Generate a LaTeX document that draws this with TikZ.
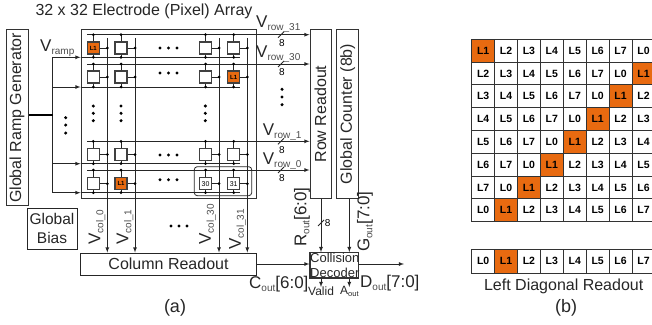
\documentclass[tikz,border=0pt]{standalone}
\usepackage{fontspec}
\setmainfont{Liberation Sans}
\usetikzlibrary{calc}
\definecolor{pixelorange}{RGB}{232,106,16}
\tikzset{
  >=latex,
  box/.style={draw=black!80,line width=1pt,inner sep=0pt},
  wire/.style={line width=0.8pt,color=black!85},
  lonecell/.style={draw=black!75,line width=1.2pt,fill=white,minimum size=12pt,inner sep=0pt,font=\fontsize{7}{7}\selectfont},
  hitcell/.style={lonecell,fill=pixelorange,font=\fontsize{6}{6}\selectfont\bfseries},
  junction/.style={circle,fill=black,inner sep=0pt,minimum size=3pt},
  gapdot/.style={circle,fill=black,inner sep=0pt,minimum size=3.4pt},
  gridcell/.style={draw=black!80,line width=1pt,minimum width=22.9pt,minimum height=22.8pt,inner sep=0pt,font=\fontsize{10.5}{10.5}\selectfont\bfseries},
  blocktext/.style={font=\fontsize{16}{16}\selectfont,color=black!85},
  siglabel/.style={font=\fontsize{17}{17}\selectfont,color=black!85,inner sep=0pt}
}
\newcommand{\vsig}[2]{#1\raisebox{-3pt}{\fontsize{10}{10}\selectfont\color{black!70}#2}}
\def\pixel[#1](#2)(#3,#4)(#5:#6:#7)#8{
  \node[#1] (#2) at (#3,#4) {#8};
  \draw[wire] (#2.north) -- (#3,#5) node[junction] (#2t) {};
  \draw[wire] (#2.south) -- (#3,#6) node[junction] (#2b) {};
  \draw[wire] (#2.east) -- (#7,#4) node[junction] (#2r) {};
}
\begin{document}
\begin{tikzpicture}[x=1pt,y=-1pt]
  \useasboundingbox (0,0) rectangle (652,324);
  %%%%% blocks %%%%%
  \node[box,minimum width=22pt,minimum height=176pt] (rampgen) at (17,117.5) {};
  \node[blocktext,rotate=90] (rampgentext) at (17,118) {Global Ramp Generator};
  \node[box,minimum width=50pt,minimum height=41pt,blocktext,align=center,font=\fontsize{15.5}{18.5}\selectfont] (bias) at (52,228.5) {Global\\Bias};
  \node[box,minimum width=175pt,minimum height=169pt] (array) at (168.5,114) {};
  \node[box,minimum width=176pt,minimum height=22pt,blocktext] (colread) at (168.5,264) {Column Readout};
  \node[box,minimum width=21pt,minimum height=169pt] (rowread) at (320.5,114) {};
  \node[blocktext,rotate=90] (rowreadtext) at (320.5,114) {Row Readout};
  \node[box,minimum width=22pt,minimum height=169pt] (counter) at (347.7,114) {};
  \node[blocktext,rotate=90] (countertext) at (347.7,114) {Global Counter (8b)};
  \node[box,line width=1.2pt,minimum width=48.7pt,minimum height=25.3pt] (decoder) at (334.4,265.4) {};
  \node[font=\fontsize{13}{15}\selectfont,align=center,color=black!85] (decodertext) at (334.8,265.8) {Collision\\Decoder};
  \node[blocktext] (title) at (144,11) {32 x 32 Electrode (Pixel) Array};
  \node[font=\fontsize{18}{18}\selectfont,color=black!85] (parta) at (175,307.5) {(a)};
  %%%%% row and ramp lines %%%%%
  \coordinate (busa) at (52.7,57.3);
  \coordinate (busb) at (52.7,87);
  \coordinate (busc) at (52.7,163.7);
  \coordinate (busd) at (52.7,192.7);
  \draw[wire] (busa) -- (busd);
  \draw[line width=1.4pt] (rampgen.east |- 0,115) -- (52.7,115);
  \foreach \rampy in {a,b,c,d}{
    \draw[wire,->] (bus\rampy) -- (bus\rampy -| array.west);
    \draw[wire] (bus\rampy -| array.west) -- ($(bus\rampy)+(187.3,0)$);
  }
  \foreach \rowy in {34.7,64,141.3,170}{
    \coordinate (rowstart) at (87,\rowy);
    \draw[wire,->] (rowstart) -- (rowstart -| rowread.west);
    \draw[wire] ($(281,\rowy)+(-3,3)$) -- ($(281,\rowy)+(3,-3)$);
    \node[font=\fontsize{10}{10}\selectfont,inner sep=0pt] at (282,\rowy+8.5) {8};
  }
  %%%%% column lines %%%%%
  \foreach \colx in {107.3,135,219,247.3}{
    \coordinate (coltop) at (\colx,38);
    \draw[wire,->] (coltop) -- (coltop |- colread.north);
  }
  %%%%% pixels %%%%%
  \pixel[hitcell](ca)(93.3,48)(34.7:57.3:107.3){L1}
  \pixel[lonecell](cb)(121,48)(34.7:57.3:135){}
  \pixel[lonecell](cc)(205.5,48)(34.7:57.3:219){}
  \pixel[lonecell](cd)(233.7,48)(34.7:57.3:247.3){}
  \pixel[lonecell](da)(93.3,77)(64:87:107.3){}
  \pixel[lonecell](db)(121,77)(64:87:135){}
  \pixel[lonecell](dc)(205.5,77)(64:87:219){}
  \pixel[hitcell](dd)(233.7,77)(64:87:247.3){L1}
  \pixel[lonecell](ea)(93.3,154.5)(141.3:163.7:107.3){}
  \pixel[lonecell](eb)(121,154.5)(141.3:163.7:135){}
  \pixel[lonecell](ec)(205.5,154.5)(141.3:163.7:219){}
  \pixel[lonecell](ed)(233.7,154.5)(141.3:163.7:247.3){}
  \pixel[lonecell](fa)(93.3,183.7)(170:192.7:107.3){}
  \pixel[hitcell](fb)(121,183.7)(170:192.7:135){L1}
  \pixel[lonecell](fc)(205.5,183.7)(170:192.7:219){30}
  \pixel[lonecell](fd)(233.7,183.7)(170:192.7:247.3){31}
  \draw[wire,rounded corners=3pt] (194.3,166.7) rectangle (251.7,195.7);
  %%%%% gaps %%%%%
  \foreach \gapx/\gapy in {160/48,168.5/48,177/48,160/73,168.5/73,177/73,160/155,168.5/155,177/155,160/179.7,168.5/179.7,177/179.7,
    93.3/106,93.3/113.3,93.3/120.7,121/106,121/113.3,121/120.7,205.3/106,205.3/113.3,205.3/120.7,
    65.7/117.7,65.7/125,65.7/133,282/89.3,282/97,282/104.7,171/226,179/226,187/226}{
    \node[gapdot] at (\gapx,\gapy) {};
  }
  %%%%% signal labels %%%%%
  \node[siglabel,anchor=west] (vramp) at (40,48) {\vsig{V}{ramp}};
  \node[siglabel,anchor=west] (vrowa) at (256,24) {\vsig{V}{row\_31}};
  \node[siglabel,anchor=west] (vrowb) at (256,54) {\vsig{V}{row\_30}};
  \node[siglabel,anchor=west] (vrowc) at (262.7,132) {\vsig{V}{row\_1}};
  \node[siglabel,anchor=west] (vrowd) at (262.7,161) {\vsig{V}{row\_0}};
  \node[siglabel,anchor=west,rotate=90] (vcola) at (97,245) {\vsig{V}{col\_0}};
  \node[siglabel,anchor=west,rotate=90] (vcolb) at (125,245) {\vsig{V}{col\_1}};
  \node[siglabel,anchor=west,rotate=90] (vcolc) at (207.5,245) {\vsig{V}{col\_30}};
  \node[siglabel,anchor=west,rotate=90] (vcold) at (237.5,250) {\vsig{V}{col\_31}};
  %%%%% decoder wiring %%%%%
  \draw[wire,->] (colread.east) -- (colread.east -| decoder.west);
  \coordinate (decoderout) at (404,264);
  \draw[wire,->] (decoderout -| decoder.east) -- (decoderout);
  \coordinate (routx) at (321,198.7);
  \coordinate (goutx) at (349.3,198.7);
  \draw[wire,->] (routx) -- (routx |- decoder.north);
  \draw[wire,->] (goutx) -- (goutx |- decoder.north);
  \draw[wire] (318,226) -- (324,220);
  \node[font=\fontsize{10}{10}\selectfont,inner sep=0pt] (routwidth) at (327.7,223) {8};
  \coordinate (validtip) at (321,287);
  \coordinate (aouttip) at (349.3,287);
  \draw[wire,->] (validtip |- decoder.south) -- (validtip);
  \draw[wire,->] (aouttip |- decoder.south) -- (aouttip);
  \node[siglabel,anchor=west,rotate=90] (rout) at (302,247) {\vsig{R}{out}[6:0]};
  \node[siglabel,anchor=west,rotate=90] (gout) at (365,252) {\vsig{G}{out}[7:0]};
  \node[siglabel,anchor=west] (cout) at (249,284) {\vsig{C}{out}[6:0]};
  \node[siglabel,anchor=west] (dout) at (360,283) {\vsig{D}{out}[7:0]};
  \node[font=\fontsize{12}{12}\selectfont,anchor=west,inner sep=0pt,color=black!85] (valid) at (308,291) {Valid};
  \node[font=\fontsize{12}{12}\selectfont,anchor=west,inner sep=0pt,color=black!85] (aout) at (340,291) {A\raisebox{-2pt}{\fontsize{7.5}{7.5}\selectfont out}};
  %%%%% right grid %%%%%
  \begin{scope}
    \clip (0,0) rectangle (652,324);
    \foreach \r in {0,...,7}{
      \foreach \c in {0,...,7}{
        \pgfmathtruncatemacro{\lvl}{mod(\r+\c+1,8)}
        \ifnum\lvl=1 \def\shade{pixelorange}\else\def\shade{white}\fi
        \node[gridcell,fill=\shade] (g\r\c) at (483.15+22.9*\c,50.7+22.8*\r) {L\lvl};
      }
    }
    \foreach \c in {0,...,7}{
      \ifnum\c=1 \def\shade{pixelorange}\else\def\shade{white}\fi
      \node[gridcell,minimum height=23.7pt,fill=\shade] (r\c) at (483.15+22.9*\c,261.2) {L\c};
    }
  \end{scope}
  \node[font=\fontsize{16}{16}\selectfont,color=black!85] (readouttext) at (563.7,286.7) {Left Diagonal Readout};
  \node[font=\fontsize{18}{18}\selectfont,color=black!85] (partb) at (566,307.5) {(b)};
\end{tikzpicture}
\end{document}
